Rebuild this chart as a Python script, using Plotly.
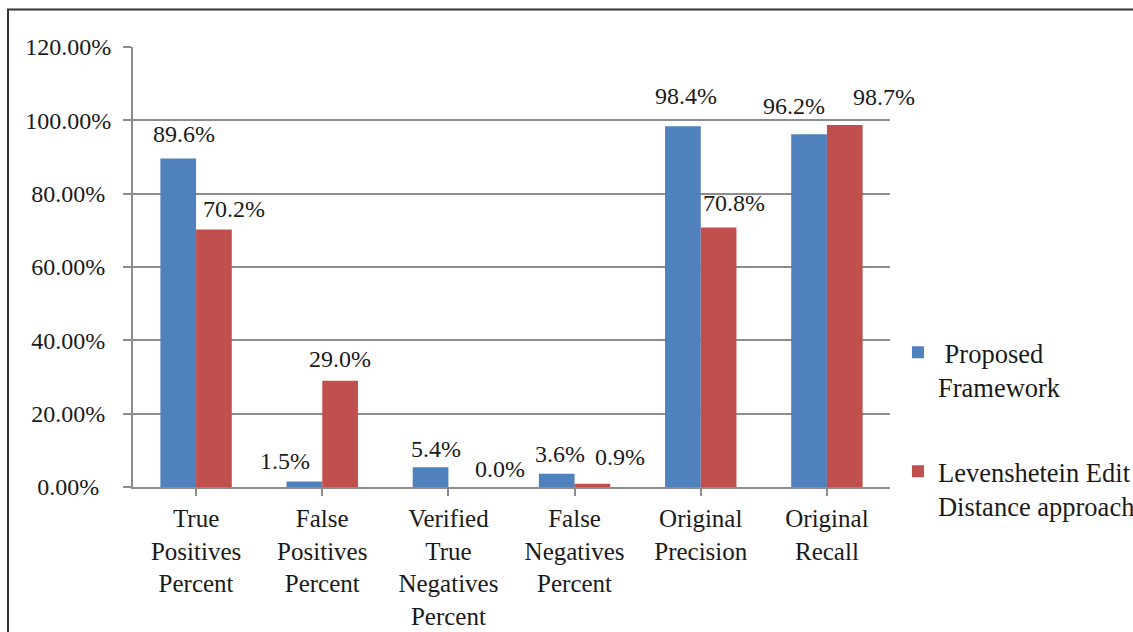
import plotly.graph_objects as go

# Category labels (multi-line) and the two compared series, in percent
categories = [
    "True<br>Positives<br>Percent",
    "False<br>Positives<br>Percent",
    "Verified<br>True<br>Negatives<br>Percent",
    "False<br>Negatives<br>Percent",
    "Original<br>Precision",
    "Original<br>Recall",
]
proposed = [89.6, 1.5, 5.4, 3.6, 98.4, 96.2]
levenshtein = [70.2, 29.0, 0.0, 0.9, 70.8, 98.7]

series_names = [" Proposed<br>Framework", "Levenshetein Edit<br>Distance approach"]

# y-axis ticks
y_ticks = [0, 20, 40, 60, 80, 100, 120]

# label nudges (px): horizontal shift and height of label centre above bar top
prop_dx = [6, -19, 5, 3, 3, -15]
prop_dy = [24, 21, 18, 20, 30, 28]
lev_dx = [20, 0, 34, 28, 15, 39]
lev_dy = [21, 22, 18, 27, 24, 28]

BLUE = "#4F81BD"
RED = "#C0504D"
FONT = "Liberation Serif"
INK = "#1a1a1a"
GRID = "#8c8c8c"

BARGAP = 0.434
half_bar = (1 - BARGAP) / 4  # offset of each bar centre from the category centre

x_idx = list(range(len(categories)))

fig = go.Figure()
fig.add_trace(go.Bar(x=x_idx, y=proposed, name=series_names[0],
                     marker=dict(color=BLUE, line=dict(width=0)),
                     legendgroup="a"))
fig.add_trace(go.Bar(x=x_idx, y=levenshtein, name=series_names[1],
                     marker=dict(color=RED, line=dict(width=0)),
                     legendgroup="b"))

# value labels above each bar
for vals, sign, dxs, dys in ((proposed, -1, prop_dx, prop_dy),
                             (levenshtein, 1, lev_dx, lev_dy)):
    for i, v in enumerate(vals):
        fig.add_annotation(
            x=i + sign * half_bar, y=v, xref="x", yref="y",
            text=f"{v:.1f}%", showarrow=False,
            xanchor="center", yanchor="middle",
            xshift=dxs[i], yshift=dys[i],
            font=dict(family=FONT, size=24, color=INK),
        )

# y tick labels padded so they sit centred in the margin
def pad(label):
    extra = 7 - len(label)
    return label + {0: "", 1: "\u2008", 2: "\u2002"}[extra]

y_text = [pad(f"{t:.2f}%") for t in y_ticks]

# outer frame around the chart
fig.add_shape(type="rect", xref="paper", yref="paper",
              x0=(8 - 133) / 757, x1=(1145 - 133) / 757,
              y0=(487 - 645) / 440, y1=(487 - 9.5) / 440,
              line=dict(color="#333333", width=2), layer="below")

fig.update_layout(
    width=1133, height=632,
    margin=dict(l=133, r=243, t=47, b=145, pad=0, autoexpand=False),
    paper_bgcolor="white", plot_bgcolor="white",
    barmode="group", bargap=BARGAP, bargroupgap=0,
    font=dict(family=FONT, color=INK),
    showlegend=True,
    legend=dict(x=1.0105, y=0.36, xanchor="left", yanchor="top",
                font=dict(family=FONT, size=26.5, color=INK),
                valign="top", tracegroupgap=47,
                bgcolor="rgba(0,0,0,0)"),
    xaxis=dict(
        tickmode="array", tickvals=x_idx, ticktext=categories,
        range=[-0.5, len(categories) - 0.5], automargin=False,
        showgrid=False, showline=True, linecolor=GRID, linewidth=2,
        ticks="outside", tickson="boundaries", ticklen=7, tickwidth=2,
        tickcolor=GRID, tickangle=0, ticklabelstandoff=1,
        tickfont=dict(family=FONT, size=25, color=INK),
    ),
    yaxis=dict(
        range=[0, 120], tickmode="array", tickvals=y_ticks, ticktext=y_text,
        automargin=False,
        showgrid=True, gridcolor=GRID, gridwidth=2,
        showline=True, linecolor=GRID, linewidth=2,
        ticks="outside", ticklen=8, tickwidth=2, tickcolor=GRID,
        ticklabelstandoff=7, zeroline=False,
        tickfont=dict(family=FONT, size=24, color=INK),
    ),
)

fig.write_html("out.html")
